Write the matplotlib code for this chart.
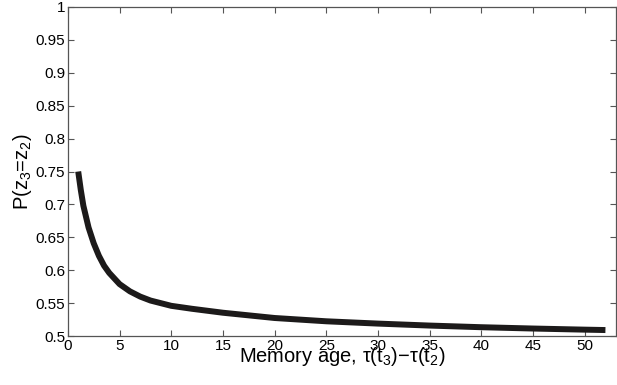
import matplotlib
matplotlib.use("Agg")
from matplotlib import pyplot as plt
from matplotlib.ticker import MultipleLocator, FormatStrFormatter

plt.rcParams['font.family'] = ['Liberation Sans', 'DejaVu Sans']
plt.rcParams['mathtext.fontset'] = 'custom'
plt.rcParams['mathtext.rm'] = 'Liberation Sans'
plt.rcParams['mathtext.it'] = 'Liberation Sans'

# values
memory_age = [1, 1.25, 1.5, 2, 2.5, 3, 3.5, 4, 5, 6, 7, 8, 10, 12, 15, 20,
              25, 30, 35, 40, 45, 50, 52]
p_same = [0.75, 0.722, 0.698, 0.665, 0.641, 0.622, 0.607, 0.596, 0.579,
          0.568, 0.560, 0.554, 0.546, 0.5415, 0.5355, 0.5275, 0.5225, 0.519,
          0.516, 0.5135, 0.5115, 0.5098, 0.5092]

fig = plt.figure(figsize=(6.17, 3.85), dpi=100)
ax = fig.add_axes([0.110, 0.127, 0.888, 0.855])

ax.plot(memory_age, p_same, color='#1c1a1a', linewidth=4.3,
        solid_joinstyle='round', solid_capstyle='butt')

ax.set_xlim(0, 53)
ax.set_ylim(0.5, 1)
ax.xaxis.set_major_locator(MultipleLocator(5))
ax.yaxis.set_major_locator(MultipleLocator(0.05))
ax.xaxis.set_major_formatter(FormatStrFormatter('%g'))
ax.yaxis.set_major_formatter(FormatStrFormatter('%g'))
ax.tick_params(direction='in', top=True, right=True, length=4, width=0.8,
               labelsize=11, colors='#555555', labelcolor='black', pad=2)
for s in ax.spines.values():
    s.set_color('#555555')
    s.set_linewidth(0.9)

ax.set_xlabel('Memory age, \u03c4(t$_3$)\u2212\u03c4(t$_2$)', fontsize=14.5, labelpad=-6)
ax.set_ylabel('P(z$_3$=z$_2$)', fontsize=14.5, labelpad=1)

plt.savefig("out.png", dpi=100)
